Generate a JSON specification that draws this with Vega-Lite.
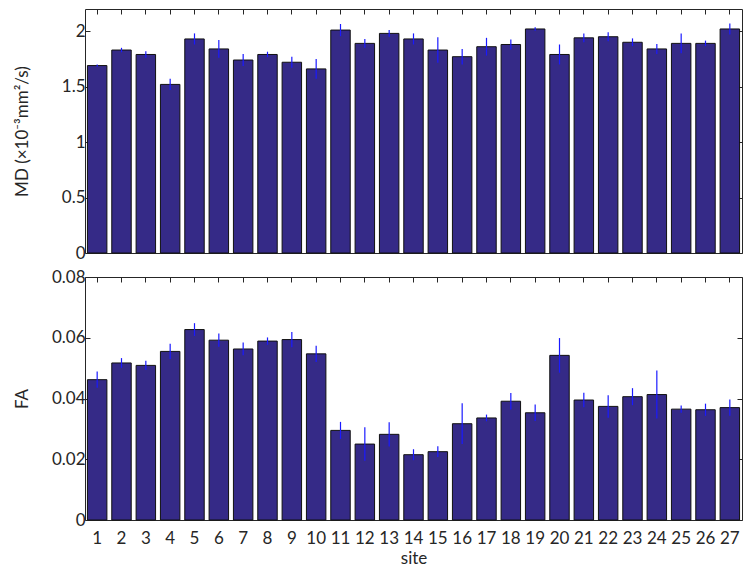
{
  "$schema": "https://vega.github.io/schema/vega-lite/v6.json",
  "padding": {"left": 12, "top": 8, "right": 9, "bottom": 2},
  "background": "white",
  "config": {
    "font": "Lato",
    "view": {"stroke": "#262626", "strokeWidth": 1},
    "axis": {"domain": false, "grid": false, "tickSize": -5, "tickColor": "#262626", "labelFont": "Lato", "labelFontSize": 17, "labelColor": "#262626", "titleFont": "Lato", "titleFontSize": 17, "titleFontWeight": "normal", "titleColor": "#262626"}
  },
  "datasets": {
    "d": [
      {"site": 1, "md": 1.69, "md_err": 0.01, "fa": 0.0462, "fa_err": 0.0027},
      {"site": 2, "md": 1.83, "md_err": 0.02, "fa": 0.0517, "fa_err": 0.0016},
      {"site": 3, "md": 1.79, "md_err": 0.03, "fa": 0.0509, "fa_err": 0.0015},
      {"site": 4, "md": 1.52, "md_err": 0.05, "fa": 0.0555, "fa_err": 0.0025},
      {"site": 5, "md": 1.93, "md_err": 0.05, "fa": 0.0627, "fa_err": 0.0021},
      {"site": 6, "md": 1.84, "md_err": 0.08, "fa": 0.0592, "fa_err": 0.0022},
      {"site": 7, "md": 1.74, "md_err": 0.055, "fa": 0.0563, "fa_err": 0.0021},
      {"site": 8, "md": 1.79, "md_err": 0.025, "fa": 0.0589, "fa_err": 0.0012},
      {"site": 9, "md": 1.72, "md_err": 0.05, "fa": 0.0594, "fa_err": 0.0025},
      {"site": 10, "md": 1.66, "md_err": 0.09, "fa": 0.0547, "fa_err": 0.0027},
      {"site": 11, "md": 2.01, "md_err": 0.055, "fa": 0.0295, "fa_err": 0.0028},
      {"site": 12, "md": 1.89, "md_err": 0.04, "fa": 0.025, "fa_err": 0.0055},
      {"site": 13, "md": 1.98, "md_err": 0.03, "fa": 0.0282, "fa_err": 0.004},
      {"site": 14, "md": 1.93, "md_err": 0.05, "fa": 0.0215, "fa_err": 0.0018},
      {"site": 15, "md": 1.83, "md_err": 0.115, "fa": 0.0225, "fa_err": 0.0018},
      {"site": 16, "md": 1.77, "md_err": 0.07, "fa": 0.0317, "fa_err": 0.0067},
      {"site": 17, "md": 1.86, "md_err": 0.08, "fa": 0.0336, "fa_err": 0.0011},
      {"site": 18, "md": 1.88, "md_err": 0.045, "fa": 0.0391, "fa_err": 0.0027},
      {"site": 19, "md": 2.02, "md_err": 0.015, "fa": 0.0353, "fa_err": 0.0027},
      {"site": 20, "md": 1.79, "md_err": 0.09, "fa": 0.0542, "fa_err": 0.0057},
      {"site": 21, "md": 1.94, "md_err": 0.04, "fa": 0.0395, "fa_err": 0.0024},
      {"site": 22, "md": 1.95, "md_err": 0.04, "fa": 0.0374, "fa_err": 0.0037},
      {"site": 23, "md": 1.90, "md_err": 0.035, "fa": 0.0406, "fa_err": 0.0028},
      {"site": 24, "md": 1.84, "md_err": 0.045, "fa": 0.0413, "fa_err": 0.0079},
      {"site": 25, "md": 1.89, "md_err": 0.09, "fa": 0.0365, "fa_err": 0.0012},
      {"site": 26, "md": 1.89, "md_err": 0.025, "fa": 0.0363, "fa_err": 0.002},
      {"site": 27, "md": 2.02, "md_err": 0.05, "fa": 0.037, "fa_err": 0.0027}
    ]
  },
  "data": {"name": "d"},
  "spacing": 5,
  "vconcat": [
    {
      "width": 657,
      "height": 244,
      "resolve": {"axis": {"x": "independent", "y": "independent"}},
      "layer": [
        {
          "mark": {"type": "bar", "color": "#352a87", "stroke": "#111111", "strokeWidth": 1},
          "encoding": {
            "x": {"field": "site", "type": "ordinal", "scale": {"paddingInner": 0.2, "paddingOuter": 0.1}, "axis": {"labels": false, "title": null, "orient": "bottom"}},
            "y": {"field": "md", "type": "quantitative", "scale": {"domain": [0, 2.2], "nice": false}, "axis": {"values": [0, 0.5, 1, 1.5, 2], "format": "~g", "title": "MD (×10⁻³mm²/s)", "labelPadding": 5, "titlePadding": 18, "minExtent": 36, "maxExtent": 36}}
          }
        },
        {
          "mark": {"type": "errorbar", "color": "#1a1aff", "thickness": 1.2},
          "encoding": {
            "x": {"field": "site", "type": "ordinal", "axis": {"labels": false, "title": null, "orient": "top"}},
            "y": {"field": "md", "type": "quantitative", "axis": {"values": [0, 0.5, 1, 1.5, 2], "labels": false, "title": null, "orient": "right"}},
            "yError": {"field": "md_err"}
          }
        }
      ]
    },
    {
      "width": 657,
      "height": 243,
      "resolve": {"axis": {"x": "independent", "y": "independent"}},
      "layer": [
        {
          "mark": {"type": "bar", "color": "#352a87", "stroke": "#111111", "strokeWidth": 1},
          "encoding": {
            "x": {"field": "site", "type": "ordinal", "scale": {"paddingInner": 0.2, "paddingOuter": 0.1}, "axis": {"labelAngle": 0, "title": "site", "orient": "bottom", "labelPadding": 15, "titlePadding": 4}},
            "y": {"field": "fa", "type": "quantitative", "scale": {"domain": [0, 0.08], "nice": false}, "axis": {"values": [0, 0.02, 0.04, 0.06, 0.08], "format": "~g", "title": "FA", "labelPadding": 5, "titlePadding": 18, "minExtent": 36, "maxExtent": 36}}
          }
        },
        {
          "mark": {"type": "errorbar", "color": "#1a1aff", "thickness": 1.2},
          "encoding": {
            "x": {"field": "site", "type": "ordinal", "axis": {"labels": false, "title": null, "orient": "top"}},
            "y": {"field": "fa", "type": "quantitative", "axis": {"values": [0, 0.02, 0.04, 0.06, 0.08], "labels": false, "title": null, "orient": "right"}},
            "yError": {"field": "fa_err"}
          }
        }
      ]
    }
  ]
}
